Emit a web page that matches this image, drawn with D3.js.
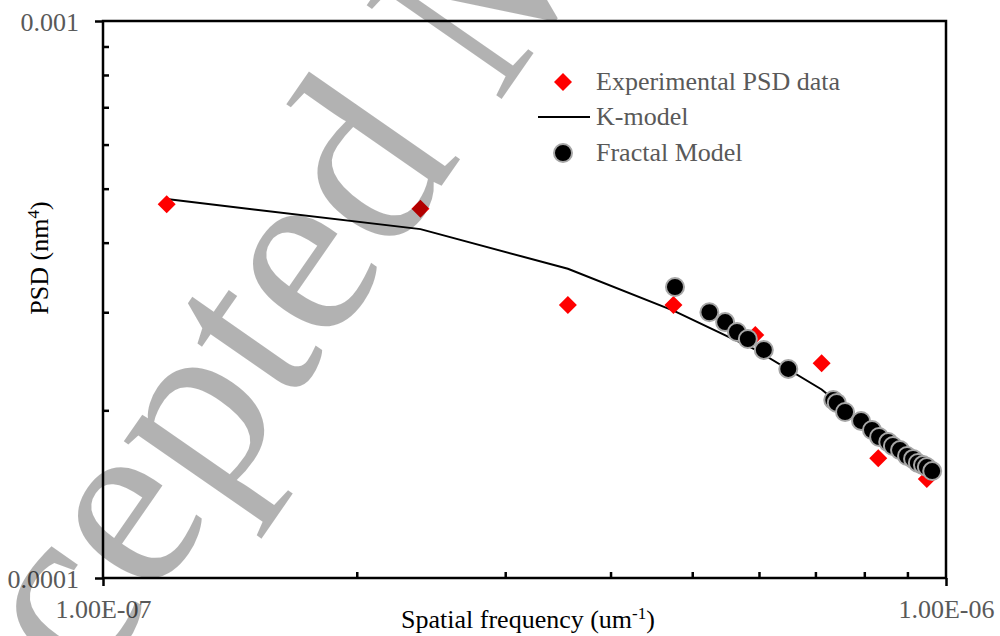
<!DOCTYPE html>
<html>
<head>
<meta charset="utf-8">
<script src="https://cdn.jsdelivr.net/npm/d3@7"></script>
<style>
  html, body { margin: 0; padding: 0; background: #fff; }
  svg { display: block; }
</style>
</head>
<body>
<svg id="chart" width="1000" height="636"></svg>
<script>
// Experimental PSD data (spatial frequency, PSD)
const expX = [1.19e-7, 2.38e-7, 3.56e-7, 4.75e-7, 5.94e-7, 7.12e-7, 8.31e-7, 9.49e-7];
const expY = [4.69e-4, 4.60e-4, 3.09e-4, 3.09e-4, 2.73e-4, 2.43e-4, 1.64e-4, 1.505e-4];

// K-model curve evaluated at the same frequencies
const kX = expX;
const kY = [4.79e-4, 4.23e-4, 3.59e-4, 3.02e-4, 2.57e-4, 2.18e-4, 1.80e-4, 1.58e-4];

// Fractal model points
const fracX = [4.77e-7, 5.24e-7, 5.47e-7, 5.65e-7, 5.82e-7, 6.08e-7, 6.50e-7, 7.35e-7, 7.42e-7,
               7.59e-7, 7.93e-7, 8.17e-7, 8.33e-7, 8.54e-7, 8.65e-7, 8.82e-7, 8.99e-7, 9.14e-7,
               9.26e-7, 9.39e-7, 9.49e-7, 9.63e-7];
const fracY = [3.33e-4, 3.00e-4, 2.88e-4, 2.765e-4, 2.686e-4, 2.567e-4, 2.373e-4, 2.087e-4, 2.062e-4,
               1.986e-4, 1.914e-4, 1.844e-4, 1.791e-4, 1.754e-4, 1.726e-4, 1.697e-4, 1.656e-4, 1.636e-4,
               1.609e-4, 1.595e-4, 1.582e-4, 1.556e-4];

// Axis ticks
const xMajor = [1e-7, 1e-6];
const xMajorLabels = ["1.00E-07", "1.00E-06"];
const yMajor = [1e-4, 1e-3];
const yMajorLabels = ["0.0001", "0.001"];
const xMinor = [2e-7, 3e-7, 4e-7, 5e-7, 6e-7, 7e-7, 8e-7, 9e-7];
const yMinor = [2e-4, 3e-4, 4e-4, 5e-4, 6e-4, 7e-4, 8e-4, 9e-4];

const legendItems = ["Experimental PSD data", "K-model", "Fractal Model"];

const FONT = "'Liberation Serif', 'Times New Roman', Times, serif";
const FS = 26;
const svg = d3.select("#chart");
const plotL = 103, plotR = 946, plotT = 21, plotB = 578;
const labelGrey = "#595959";

const x = d3.scaleLog().domain([1e-7, 1e-6]).range([plotL, plotR]);
const y = d3.scaleLog().domain([1e-4, 1e-3]).range([plotB, plotT]);

// Plot frame
svg.append("rect")
  .attr("x", plotL).attr("y", plotT)
  .attr("width", plotR - plotL).attr("height", plotB - plotT)
  .attr("fill", "none").attr("stroke", "#000").attr("stroke-width", 2.5);

// Minor ticks (inside)
const minorX = svg.append("g").attr("transform", `translate(0,${plotB})`)
  .call(d3.axisBottom(x).tickValues(xMinor).tickSize(-6).tickSizeOuter(0).tickFormat(""));
const minorY = svg.append("g").attr("transform", `translate(${plotL},0)`)
  .call(d3.axisLeft(y).tickValues(yMinor).tickSize(-6).tickSizeOuter(0).tickFormat(""));

// Major ticks (outside) with labels
const majorX = svg.append("g").attr("transform", `translate(0,${plotB})`)
  .call(d3.axisBottom(x).tickValues(xMajor).tickSize(8).tickSizeOuter(0)
    .tickFormat((d, i) => xMajorLabels[i]));
const majorY = svg.append("g").attr("transform", `translate(${plotL},0)`)
  .call(d3.axisLeft(y).tickValues(yMajor).tickSize(8).tickSizeOuter(0)
    .tickFormat((d, i) => yMajorLabels[i]));

[minorX, minorY, majorX, majorY].forEach(g => {
  g.attr("font-family", FONT);
  g.select(".domain").remove();
  g.selectAll(".tick line").attr("stroke", "#000").attr("stroke-width", 2.5);
});
[majorX, majorY].forEach(g => {
  g.selectAll(".tick text")
    .attr("fill", labelGrey)
    .attr("font-family", FONT)
    .attr("font-size", FS);
});
majorX.selectAll(".tick text").attr("y", 40).attr("dy", null);
majorY.selectAll(".tick text").attr("x", -24).attr("dy", 9);

// Axis titles
const xTitle = svg.append("text")
  .attr("x", 528).attr("y", 628)
  .attr("text-anchor", "middle")
  .attr("fill", "#000")
  .attr("font-family", FONT)
  .attr("font-size", FS);
xTitle.append("tspan").text("Spatial frequency (um");
xTitle.append("tspan").attr("dy", -9).attr("font-size", 17).text("-1");
xTitle.append("tspan").attr("dy", 9).text(")");

const yTitle = svg.append("text")
  .attr("transform", "translate(48,258) rotate(-90)")
  .attr("text-anchor", "middle")
  .attr("fill", "#000")
  .attr("font-family", FONT)
  .attr("font-size", FS);
yTitle.append("tspan").text("PSD (nm");
yTitle.append("tspan").attr("dy", -9).attr("font-size", 17).text("4");
yTitle.append("tspan").attr("dy", 9).text(")");

// Diamond marker path
const diamond = r => `M0,${-r}L${r},0L0,${r}L${-r},0Z`;

// K-model line
const line = d3.line().x((d, i) => x(kX[i])).y(d => y(d));
svg.append("path")
  .datum(kY)
  .attr("d", line)
  .attr("fill", "none")
  .attr("stroke", "#000")
  .attr("stroke-width", 2);

// Experimental points
svg.append("g").selectAll("path")
  .data(expY)
  .join("path")
  .attr("transform", (d, i) => `translate(${x(expX[i])},${y(d)})`)
  .attr("d", diamond(9))
  .attr("fill", "#ff0000");

// Fractal model points
svg.append("g").selectAll("circle")
  .data(fracY)
  .join("circle")
  .attr("cx", (d, i) => x(fracX[i]))
  .attr("cy", d => y(d))
  .attr("r", 9)
  .attr("fill", "#000")
  .attr("stroke", "#a6a6a6")
  .attr("stroke-width", 2);

// Legend
const lg = svg.append("g");
const rowY = [82, 117, 153];
lg.append("path").attr("transform", `translate(563,${rowY[0]})`).attr("d", diamond(9)).attr("fill", "#ff0000");
lg.append("line").attr("x1", 538).attr("x2", 590).attr("y1", rowY[1]).attr("y2", rowY[1])
  .attr("stroke", "#000").attr("stroke-width", 2);
lg.append("circle").attr("cx", 563).attr("cy", rowY[2]).attr("r", 9)
  .attr("fill", "#000").attr("stroke", "#a6a6a6").attr("stroke-width", 2);
lg.selectAll("text")
  .data(legendItems)
  .join("text")
  .attr("x", 596)
  .attr("y", (d, i) => rowY[i] + 8)
  .attr("fill", labelGrey)
  .attr("font-family", FONT)
  .attr("font-size", FS)
  .text(d => d);

// Watermark: diagonal text, placed so the first "e" of "Accepted" sits at a chosen point
const wmSize = 251, wmAngle = -55.2, wmAnchor = [137, 525], wmChar = 3;
const wm = svg.append("text")
  .attr("x", 0).attr("y", 0)
  .attr("fill", "#000")
  .attr("fill-opacity", 0.3)
  .attr("font-family", FONT)
  .attr("font-size", wmSize)
  .text("Accepted Manuscript");
const wNode = wm.node();
const s = wNode.getStartPositionOfChar(wmChar);
const e = wNode.getEndPositionOfChar(wmChar);
const cx = (s.x + e.x) / 2, cy = -0.225 * wmSize;
const a = wmAngle * Math.PI / 180;
const rx = cx * Math.cos(a) - cy * Math.sin(a);
const ry = cx * Math.sin(a) + cy * Math.cos(a);
wm.attr("transform", `translate(${wmAnchor[0] - rx},${wmAnchor[1] - ry}) rotate(${wmAngle})`);
</script>
</body>
</html>
